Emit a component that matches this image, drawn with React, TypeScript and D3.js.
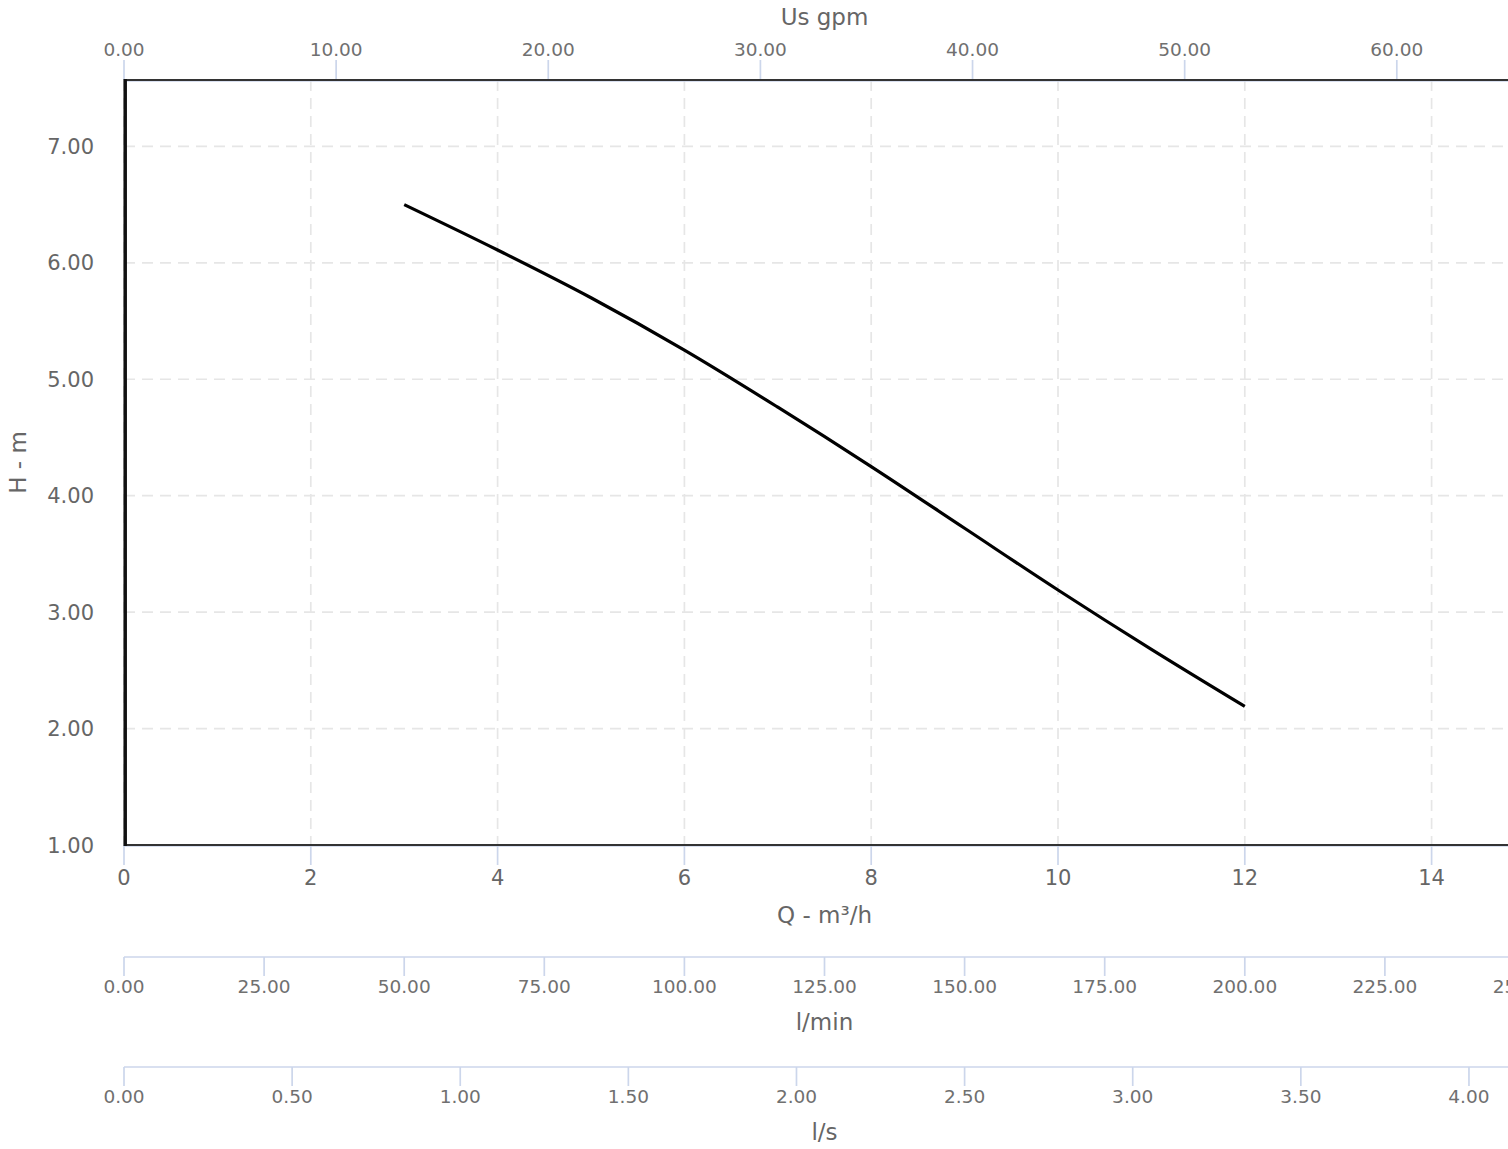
import React from "react";
import * as d3 from "d3";

// Pump curve data (Q in m³/h, H in m)
const flowQ = [3, 4, 5, 6, 7, 8, 9, 10, 11, 12];
const headH = [6.5, 6.11, 5.7, 5.25, 4.76, 4.25, 3.72, 3.19, 2.68, 2.19];

const qTicks = [0, 2, 4, 6, 8, 10, 12, 14];
const hTicks = [1, 2, 3, 4, 5, 6, 7];
const gpmTicks = [0, 10, 20, 30, 40, 50, 60];
const lminTicks = [0, 25, 50, 75, 100, 125, 150, 175, 200, 225, 250];
const lsTicks = [0, 0.5, 1, 1.5, 2, 2.5, 3, 3.5, 4];

const Q_MAX = 15;
const H_MIN = 1;
const H_MAX = 7.57;
const GPM_PER_M3H = 4.40287;
const LMIN_PER_M3H = 1000 / 60;
const LS_PER_M3H = 1 / 3.6;

export default function App() {
  const W = 1508;
  const H = 1149;
  const left = 124;
  const right = 1525;
  const top = 80;
  const bottom = 845;

  const x = d3.scaleLinear().domain([0, Q_MAX]).range([left, right]);
  const y = d3.scaleLinear().domain([H_MIN, H_MAX]).range([bottom, top]);
  const xGpm = d3.scaleLinear().domain([0, Q_MAX * GPM_PER_M3H]).range([left, right]);
  const xLmin = d3.scaleLinear().domain([0, Q_MAX * LMIN_PER_M3H]).range([left, right]);
  const xLs = d3.scaleLinear().domain([0, Q_MAX * LS_PER_M3H]).range([left, right]);

  const pts: [number, number][] = flowQ.map((q, i) => [q, headH[i]]);
  const line = d3
    .line<[number, number]>()
    .x((d) => x(d[0]))
    .y((d) => y(d[1]))
    .curve(d3.curveCatmullRom.alpha(0.5));

  const font = "'DejaVu Sans', sans-serif";
  const labelColor = "#666666";
  const smallColor = "#707070";
  const tickColor = "#ccd6eb";
  const gridColor = "#e6e6e6";
  const f2 = d3.format(".2f");

  const lmin_axis_y = 957;
  const ls_axis_y = 1067;

  return (
    <svg
      width={W}
      height={H}
      style={{ position: "absolute", left: 0, top: 0, overflow: "hidden", background: "#fff" }}
      fontFamily={font}
    >
      <rect x={0} y={0} width={W} height={H} fill="#ffffff" />
      {/* grid */}
      {qTicks.map((t) => (
        <line
          key={"gx" + t}
          x1={x(t)}
          x2={x(t)}
          y1={top}
          y2={bottom}
          stroke={gridColor}
          strokeWidth={1.7}
          strokeDasharray="11,7"
        />
      ))}
      {hTicks.map((t) => (
        <line
          key={"gy" + t}
          x1={left}
          x2={right}
          y1={y(t)}
          y2={y(t)}
          stroke={gridColor}
          strokeWidth={1.7}
          strokeDasharray="11,7"
        />
      ))}

      {/* top gpm axis */}
      <line x1={left} x2={right} y1={top + 1} y2={top + 1} stroke={tickColor} strokeWidth={1.7} />
      {gpmTicks.map((t) => (
        <g key={"gpm" + t}>
          <line x1={xGpm(t)} x2={xGpm(t)} y1={60} y2={top} stroke={tickColor} strokeWidth={1.7} />
          <text x={xGpm(t)} y={56} textAnchor="middle" fontSize={18.5} fill={smallColor}>
            {f2(t)}
          </text>
        </g>
      ))}
      <text x={(left + right) / 2} y={25} textAnchor="middle" fontSize={23} fill={labelColor}>
        Us gpm
      </text>

      {/* bottom Q axis */}
      <line x1={left} x2={right} y1={bottom + 1} y2={bottom + 1} stroke={tickColor} strokeWidth={1.7} />
      {qTicks.map((t) => (
        <g key={"q" + t}>
          <line x1={x(t)} x2={x(t)} y1={bottom} y2={865} stroke={tickColor} strokeWidth={1.7} />
          <text x={x(t)} y={885} textAnchor="middle" fontSize={21} fill={labelColor}>
            {t}
          </text>
        </g>
      ))}
      <text x={(left + right) / 2} y={923} textAnchor="middle" fontSize={23} fill={labelColor}>
        Q - m³/h
      </text>

      {/* y axis labels */}
      {hTicks.map((t) => (
        <text key={"h" + t} x={94} y={y(t) + 7.5} textAnchor="end" fontSize={21} fill={labelColor}>
          {f2(t)}
        </text>
      ))}
      <text
        transform={`translate(26, ${(top + bottom) / 2}) rotate(-90)`}
        textAnchor="middle"
        fontSize={23}
        fill={labelColor}
      >
        H - m
      </text>

      {/* l/min axis */}
      <line x1={left} x2={right} y1={lmin_axis_y} y2={lmin_axis_y} stroke={tickColor} strokeWidth={1.7} />
      {lminTicks.map((t) => (
        <g key={"lm" + t}>
          <line x1={xLmin(t)} x2={xLmin(t)} y1={lmin_axis_y} y2={lmin_axis_y + 19} stroke={tickColor} strokeWidth={1.7} />
          <text x={xLmin(t)} y={993} textAnchor="middle" fontSize={18.5} fill={smallColor}>
            {f2(t)}
          </text>
        </g>
      ))}
      <text x={(left + right) / 2} y={1030} textAnchor="middle" fontSize={23} fill={labelColor}>
        l/min
      </text>

      {/* l/s axis */}
      <line x1={left} x2={right} y1={ls_axis_y} y2={ls_axis_y} stroke={tickColor} strokeWidth={1.7} />
      {lsTicks.map((t) => (
        <g key={"ls" + t}>
          <line x1={xLs(t)} x2={xLs(t)} y1={ls_axis_y} y2={ls_axis_y + 19} stroke={tickColor} strokeWidth={1.7} />
          <text x={xLs(t)} y={1103} textAnchor="middle" fontSize={18.5} fill={smallColor}>
            {f2(t)}
          </text>
        </g>
      ))}
      <text x={(left + right) / 2} y={1140} textAnchor="middle" fontSize={23} fill={labelColor}>
        l/s
      </text>

      {/* plot border */}
      <line x1={left} x2={right + 10} y1={top} y2={top} stroke="#333333" strokeWidth={2} />
      <line x1={left} x2={right + 10} y1={bottom} y2={bottom} stroke="#333333" strokeWidth={2} />
      <line x1={left + 1.2} x2={left + 1.2} y1={top - 1} y2={bottom + 1} stroke="#111111" strokeWidth={3.5} />

      {/* curve */}
      <path d={line(pts) || ""} fill="none" stroke="#000000" strokeWidth={3.2} strokeLinecap="butt" />
    </svg>
  );
}
